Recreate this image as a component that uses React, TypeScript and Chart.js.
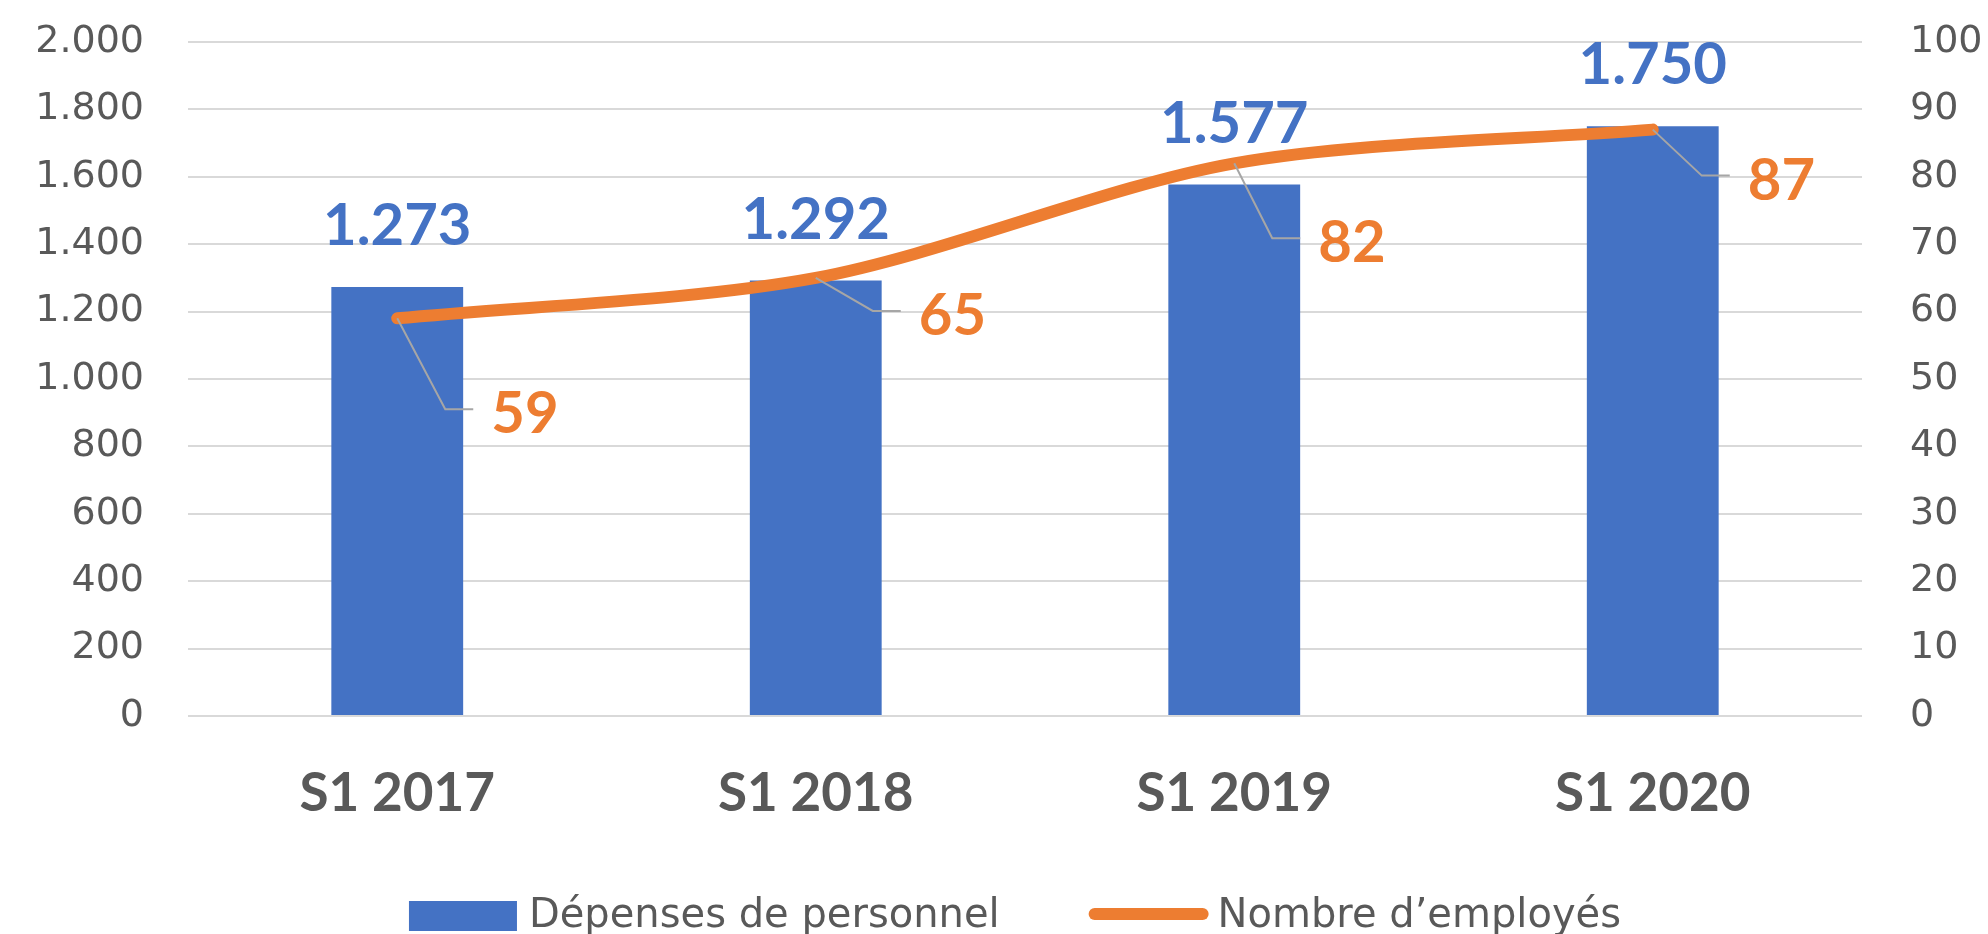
import { useEffect, useRef } from "react";
import { Chart, registerables } from "chart.js";

Chart.register(...registerables);

const categories = ["S1 2017", "S1 2018", "S1 2019", "S1 2020"];
const depenses = [1273, 1292, 1577, 1750];
const employes = [59, 65, 82, 87];
const seriesNames = ["Dépenses de personnel", "Nombre d’employés"];
// label placement (dx to label left edge, dy to label baseline) relative to each line point
const lineLabelOffsets = [
  [94, 115],
  [103, 57],
  [84, 99],
  [95, 70],
];

const BLUE = "#4472C4";
const ORANGE = "#ED7D31";
const GREY_TEXT = "#595959";

const fmt = (v: number) => String(v).replace(/\B(?=(\d{3})+(?!\d))/g, ".");

const labelsPlugin = {
  id: "customLabels",
  afterDatasetsDraw(chart: any) {
    const ctx = chart.ctx;
    const barMeta = chart.getDatasetMeta(0);
    const lineMeta = chart.getDatasetMeta(1);
    ctx.save();
    ctx.font = "bold 58px Lato";
    ctx.fillStyle = BLUE;
    ctx.textAlign = "center";
    ctx.textBaseline = "alphabetic";
    barMeta.data.forEach((bar: any, i: number) => {
      ctx.fillText(fmt(depenses[i]), bar.x, bar.y - 42);
    });
    lineMeta.data.forEach((pt: any, i: number) => {
      const [dx, dy] = lineLabelOffsets[i];
      const lx = pt.x + dx;
      const by = pt.y + dy;
      ctx.strokeStyle = "#A6A6A6";
      ctx.lineWidth = 2;
      ctx.beginPath();
      ctx.moveTo(pt.x, pt.y);
      ctx.lineTo(lx - 46, by - 24);
      ctx.lineTo(lx - 18, by - 24);
      ctx.stroke();
      ctx.font = "bold 58px Lato";
      ctx.fillStyle = ORANGE;
      ctx.textAlign = "left";
      ctx.textBaseline = "alphabetic";
      ctx.fillText(String(employes[i]), lx, by);
    });
    ctx.restore();
  },
};

const legendPlugin = {
  id: "customLegend",
  afterDraw(chart: any) {
    const ctx = chart.ctx;
    ctx.save();
    ctx.font = "40px 'DejaVu Sans'";
    ctx.textBaseline = "alphabetic";
    ctx.textAlign = "left";
    const w1 = ctx.measureText(seriesNames[0]).width;
    const w2 = ctx.measureText(seriesNames[1]).width;
    const total = 108 + 12 + w1 + 89 + 120 + 9 + w2;
    const center = (chart.chartArea.left + chart.chartArea.right) / 2 - 10;
    let x = center - total / 2;
    const baseline = 927;
    ctx.fillStyle = BLUE;
    ctx.fillRect(x, 901, 108, 30);
    x += 108 + 12;
    ctx.fillStyle = GREY_TEXT;
    ctx.fillText(seriesNames[0], x, baseline);
    x += w1 + 89;
    ctx.strokeStyle = ORANGE;
    ctx.lineWidth = 12;
    ctx.lineCap = "round";
    ctx.beginPath();
    ctx.moveTo(x + 6, 914);
    ctx.lineTo(x + 114, 914);
    ctx.stroke();
    x += 120 + 9;
    ctx.fillText(seriesNames[1], x, baseline);
    ctx.restore();
  },
};

export default function App() {
  const canvasRef = useRef<HTMLCanvasElement | null>(null);

  useEffect(() => {
    const canvas = canvasRef.current;
    if (!canvas) return;
    const chart = new Chart(canvas, {
      type: "bar",
      data: {
        labels: categories,
        datasets: [
          {
            type: "bar",
            label: seriesNames[0],
            data: depenses,
            backgroundColor: BLUE,
            borderWidth: 0,
            yAxisID: "y",
            order: 1,
            categoryPercentage: 1,
            barPercentage: 0.315,
          },
          {
            type: "line",
            label: seriesNames[1],
            data: employes,
            borderColor: ORANGE,
            backgroundColor: ORANGE,
            borderWidth: 12,
            borderCapStyle: "round",
            borderJoinStyle: "round",
            pointRadius: 0,
            tension: 0.3,
            yAxisID: "y1",
            order: 0,
          } as any,
        ],
      },
      options: {
        animation: false,
        responsive: false,
        maintainAspectRatio: false,
        layout: { padding: { top: 42, left: 0, right: 0, bottom: 0 } },
        plugins: {
          legend: { display: false },
          tooltip: { enabled: false },
          title: { display: false },
        },
        scales: {
          x: {
            offset: true,
            grid: { display: false, drawTicks: false },
            border: { display: false },
            ticks: {
              color: GREY_TEXT,
              padding: 46,
              font: { family: "Lato", weight: "bold", size: 53 },
            },
            afterFit: (s: any) => {
              s.height = 218;
            },
          },
          y: {
            position: "left",
            min: 0,
            max: 2000,
            grid: { color: "#D9D9D9", lineWidth: 2, drawTicks: false },
            border: { display: false },
            ticks: {
              stepSize: 200,
              color: GREY_TEXT,
              padding: 44,
              font: { family: "DejaVu Sans", size: 38 },
              callback: (v: any) => fmt(Number(v)),
            },
            afterFit: (s: any) => {
              s.width = 188;
              s.paddingTop = 0;
              s.paddingBottom = 0;
            },
          },
          y1: {
            position: "right",
            min: 0,
            max: 100,
            grid: { display: false, drawTicks: false },
            border: { display: false },
            ticks: {
              stepSize: 10,
              color: GREY_TEXT,
              padding: 48,
              font: { family: "DejaVu Sans", size: 38 },
            },
            afterFit: (s: any) => {
              s.width = 126;
              s.paddingTop = 0;
              s.paddingBottom = 0;
            },
          },
        } as any,
      },
      plugins: [labelsPlugin, legendPlugin],
    });
    if ((document as any).fonts && (document as any).fonts.ready) {
      (document as any).fonts.ready.then(() => chart.update());
    }
    return () => chart.destroy();
  }, []);

  return (
    <div style={{ position: "fixed", left: 0, top: 0, width: 1988, height: 934, background: "#fff" }}>
      <canvas ref={canvasRef} width={1988} height={934} style={{ display: "block" }} />
    </div>
  );
}
